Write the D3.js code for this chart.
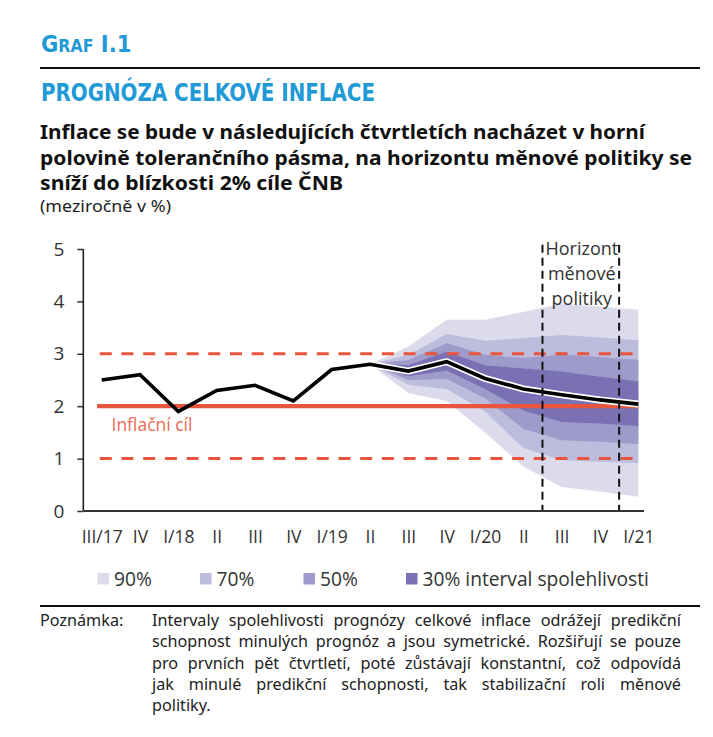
<!DOCTYPE html>
<html><head><meta charset="utf-8">
<script src="https://cdn.jsdelivr.net/npm/d3@7"></script>
<style>
body{margin:0;background:#fff}
svg{display:block}
</style>
</head><body>
<svg id="c" width="713" height="737"></svg>
<script>
// ---------------- data ----------------
const categories = ["III/17","IV","I/18","II","III","IV","I/19","II","III","IV","I/20","II","III","IV","I/21"];
const inflation  = [2.5, 2.6, 1.9, 2.3, 2.4, 2.1, 2.7, 2.8, 2.67, 2.85, 2.53, 2.33, 2.22, 2.12, 2.04];
const forecastStart = 7;               // index of II/19, where the fan begins
const yTicks = [0, 1, 2, 3, 4, 5];
const targetValue = 2;
const toleranceBand = [1, 3];
const horizonBounds = [11.5, 13.5];    // between II/20–III/20 and IV/20–I/21
const horizonLabel = ["Horizont", "měnové", "politiky"];

// fan edges for indices 7..14
const band90Lo = [2.8, 2.25, 2.10, 1.50, 0.85, 0.46, 0.37, 0.27];
const band90Hi = [2.8, 3.14, 3.65, 3.65, 3.80, 3.96, 3.90, 3.84];
const band70Lo = [2.8, 2.41, 2.33, 1.90, 1.20, 0.97, 0.94, 0.91];
const band70Hi = [2.8, 2.98, 3.38, 3.25, 3.30, 3.36, 3.31, 3.26];
const band50Lo = [2.8, 2.50, 2.52, 2.15, 1.57, 1.35, 1.32, 1.28];
const band50Hi = [2.8, 2.88, 3.20, 2.98, 2.92, 2.98, 2.94, 2.88];
const band30Lo = [2.8, 2.57, 2.68, 2.33, 1.92, 1.70, 1.67, 1.62];
const band30Hi = [2.8, 2.78, 3.04, 2.78, 2.72, 2.66, 2.56, 2.47];
const bandNames = ["90%", "70%", "50%", "30% interval spolehlivosti"];
const bandColors = ["#dcdbec", "#bdbcdc", "#9e9bcb", "#7a70b4"];

const noteLabel = "Poznámka:";
const noteLines = [
  "Intervaly spolehlivosti prognózy celkové inflace odrážejí predikční",
  "schopnost minulých prognóz a jsou symetrické. Rozšiřují se pouze",
  "pro prvních pět čtvrtletí, poté zůstávají konstantní, což odpovídá",
  "jak minulé predikční schopnosti, tak stabilizační roli měnové",
  "politiky."
];
const subtitleLines = [
  "Inflace se bude v následujících čtvrtletích nacházet v horní",
  "polovině tolerančního pásma, na horizontu měnové politiky se",
  "sníží do blízkosti 2% cíle ČNB"
];

// ---------------- drawing ----------------
const svg = d3.select("#c");
const BLUE = "#1f9ad6", RED = "#e8553e";
const condensed = "'Liberation Sans Narrow','DejaVu Sans Condensed','Roboto Condensed',sans-serif";
const sans = "'Noto Sans','Open Sans',sans-serif";
const labelFont = "'Open Sans','Noto Sans',sans-serif";

// header
const g1 = svg.append("text").attr("x", 41).attr("y", 52)
  .attr("fill", BLUE).attr("font-family", condensed).attr("font-weight", "bold")
  .attr("font-stretch", "condensed");
g1.append("tspan").attr("font-size", 23.5).text("G");
g1.append("tspan").attr("font-size", 17.5).text("RAF");
g1.append("tspan").attr("font-size", 23.5).text(" I.1");

svg.append("line").attr("x1", 40).attr("x2", 700).attr("y1", 68).attr("y2", 68)
  .attr("stroke", "#111").attr("stroke-width", 2.2);

svg.append("text").attr("x", 41).attr("y", 100.5)
  .attr("fill", BLUE).attr("font-family", condensed).attr("font-weight", "bold")
  .attr("font-stretch", "condensed").attr("font-size", 25.5)
  .attr("textLength", 334).attr("lengthAdjust", "spacingAndGlyphs")
  .text("PROGNÓZA CELKOVÉ INFLACE");

const subEnds = [645, 692, 343];
subtitleLines.forEach((t, i) => {
  svg.append("text").attr("x", 40).attr("y", 139 + i * 25.5)
    .attr("font-family", sans).attr("font-weight", "bold").attr("font-size", 19.5)
    .attr("fill", "#111")
    .attr("textLength", subEnds[i] - 40).attr("lengthAdjust", "spacingAndGlyphs")
    .text(t);
});
svg.append("text").attr("x", 40).attr("y", 211.5).attr("font-family", sans)
  .attr("font-size", 16).attr("fill", "#222")
  .attr("textLength", 131).attr("lengthAdjust", "spacingAndGlyphs")
  .text("(meziročně v %)");

// scales
const x = d3.scaleLinear().domain([0, categories.length - 1]).range([101.7, 638.3]);
const y = d3.scaleLinear().domain([0, 5]).range([511, 249]);

const plot = svg.append("g");

// fan
const fanIdx = d3.range(forecastStart, categories.length);
const bands = [[band90Lo, band90Hi], [band70Lo, band70Hi], [band50Lo, band50Hi], [band30Lo, band30Hi]];
bands.forEach(([lo, hi], b) => {
  const area = d3.area()
    .x((d, i) => x(fanIdx[i]))
    .y0((d, i) => y(lo[i]))
    .y1((d, i) => y(hi[i]));
  plot.append("path").datum(fanIdx).attr("d", area).attr("fill", bandColors[b]);
});

// target and tolerance band
const lineX1 = x(categories.length - 1);
plot.append("line").attr("x1", x(-0.12)).attr("x2", lineX1)
  .attr("y1", y(targetValue)).attr("y2", y(targetValue))
  .attr("stroke", RED).attr("stroke-width", 4.2);
toleranceBand.forEach(v => {
  plot.append("line").attr("x1", x(-0.05)).attr("x2", lineX1)
    .attr("y1", y(v)).attr("y2", y(v))
    .attr("stroke", RED).attr("stroke-width", 3).attr("stroke-dasharray", "12,9.7");
});
plot.append("text").attr("x", 111.5).attr("y", 431).attr("fill", "#ee6a55")
  .attr("font-family", labelFont).attr("font-size", 17.5).text("Inflační cíl");

// inflation line
const line = d3.line().x((d, i) => x(i)).y(d => y(d));
const fcLine = d3.line().x((d, i) => x(i + forecastStart)).y(d => y(d));
plot.append("path").datum(inflation.slice(forecastStart)).attr("d", fcLine)
  .attr("fill", "none").attr("stroke", "#fff").attr("stroke-width", 7).attr("stroke-linejoin", "round");
plot.append("path").datum(inflation).attr("d", line)
  .attr("fill", "none").attr("stroke", "#000").attr("stroke-width", 3.6).attr("stroke-linejoin", "miter");

// horizon
horizonBounds.forEach(v => {
  plot.append("line").attr("x1", x(v)).attr("x2", x(v))
    .attr("y1", y(5.08)).attr("y2", y(0))
    .attr("stroke", "#111").attr("stroke-width", 2).attr("stroke-dasharray", "8,5");
});
horizonLabel.forEach((t, i) => {
  plot.append("text").attr("x", (x(horizonBounds[0]) + x(horizonBounds[1])) / 2 + 1)
    .attr("y", 255 + i * 25).attr("text-anchor", "middle")
    .attr("font-family", labelFont).attr("font-size", 18).attr("fill", "#333").text(t);
});

// axes
const yAxis = d3.axisLeft(y).tickValues(yTicks).tickSize(6).tickPadding(13).tickFormat(d3.format("d"));
const ya = svg.append("g").attr("transform", `translate(${x(-0.48)},0)`).call(yAxis);
ya.attr("font-family", null);
ya.select(".domain").remove();
ya.selectAll("line").attr("stroke", "#333").attr("stroke-width", 1.5);
ya.selectAll("text").attr("font-family", labelFont).attr("font-size", 19).attr("fill", "#333");
svg.append("line").attr("x1", x(-0.48)).attr("x2", x(-0.48)).attr("y1", y(5)).attr("y2", y(0))
  .attr("stroke", "#222").attr("stroke-width", 1.6);

const xAxis = d3.axisBottom(x).tickValues(d3.range(categories.length)).tickSize(0).tickPadding(20)
  .tickFormat(i => categories[i]);
const xa = svg.append("g").attr("transform", `translate(0,${y(0)})`).call(xAxis);
xa.attr("font-family", null);
xa.select(".domain").remove();
xa.selectAll("text").attr("font-family", labelFont).attr("font-size", 17.5).attr("fill", "#333");
svg.append("line").attr("x1", x(-0.48)).attr("x2", x(14.15)).attr("y1", y(0)).attr("y2", y(0))
  .attr("stroke", "#333").attr("stroke-width", 2);

// legend
const legX = [97.5, 200, 303.5, 406];
bandNames.forEach((n, i) => {
  svg.append("rect").attr("x", legX[i]).attr("y", 573).attr("width", 11.5).attr("height", 11.5)
    .attr("fill", bandColors[i]);
  svg.append("text").attr("x", legX[i] + 16.5).attr("y", 585.5)
    .attr("font-family", labelFont).attr("font-size", 19.2).attr("fill", "#333").text(n);
});

// note
svg.append("line").attr("x1", 40).attr("x2", 700).attr("y1", 606).attr("y2", 606)
  .attr("stroke", "#111").attr("stroke-width", 1.8);
svg.append("text").attr("x", 40).attr("y", 626).attr("font-family", sans)
  .attr("font-size", 16.2).attr("fill", "#222").text(noteLabel);
noteLines.forEach((t, i) => {
  const tx = svg.append("text").attr("x", 152).attr("y", 626 + i * 21.3)
    .attr("font-family", sans).attr("font-size", 16.2).attr("fill", "#222").text(t);
  if (i < noteLines.length - 1) {
    const w = tx.node().getComputedTextLength();
    const spaces = (t.match(/ /g) || []).length;
    tx.attr("word-spacing", (681 - 152 - w) / spaces);
  }
});
</script>
</body></html>
